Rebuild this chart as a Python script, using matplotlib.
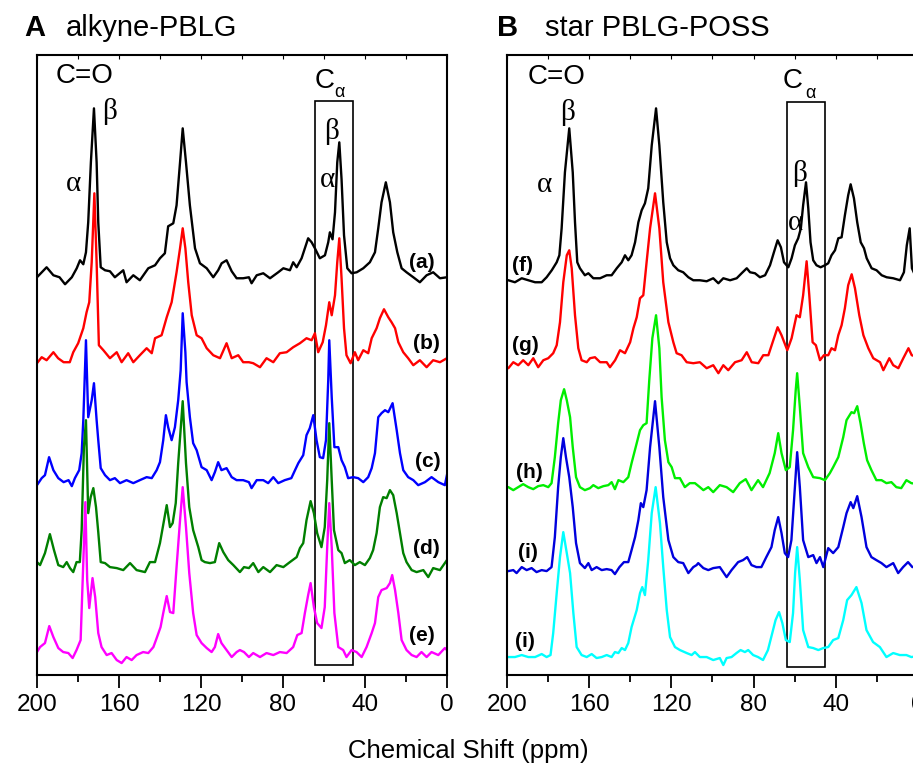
import numpy as np
import matplotlib.pyplot as plt
from matplotlib.patches import Rectangle

plt.rcParams['font.family'] = ['Liberation Sans', 'DejaVu Sans']

# (ppm, intensity above the trace's own baseline)
trace_a = [(200, 0), (195.3, 10), (192, 2), (189, 0), (186.3, -7), (183, 0), (180.6, 9), (179, 17), (177.4, 13),
           (176.1, 25), (175, 55), (173.7, 115), (172.2, 169), (170.9, 115), (170.1, 55), (168.9, 10), (166.8, 7),
           (164.4, 6), (162, 0), (157.9, 7), (156.3, -5), (153, 2), (149.8, -3), (145.7, 9), (142.4, 12), (140, 19),
           (137.6, 24), (136, 51), (133.5, 54), (131.9, 72), (130.2, 115), (128.9, 149), (127.3, 115), (125.4, 72),
           (122.9, 29), (120.5, 14), (117.2, 9), (114, 0), (111.6, 7), (109.9, 14), (107.5, 17), (105, 6),
           (102.6, -1), (99.4, -1), (96.6, 0), (95.3, -6), (92.8, 2), (89.6, 4), (86.3, -1), (82.3, 5), (79.8, 9),
           (76.6, 7), (75, 15), (73.3, 10), (70.9, 19), (69.3, 29), (67.7, 39), (66, 35), (64.4, 29), (62, 19),
           (59.5, 22), (57.9, 35), (57.1, 45), (55.8, 38), (54.6, 65), (53.5, 115), (52.5, 135), (51.4, 98),
           (50.2, 42), (48.6, 9), (46.5, 4), (44, 5), (40.8, 9), (37.6, 15), (35.1, 25), (33.5, 49), (31.9, 75),
           (29.8, 95), (27.8, 75), (26.2, 45), (24.2, 25), (22.1, 9), (19.7, 5), (16.4, 0), (13.2, -5), (9.9, 2),
           (6.7, 5), (3.4, -1), (0, 0)]
trace_b = [(200, -1), (197.7, 5), (195.3, 2), (192, 10), (189.7, 4), (187, 0), (184, 0), (182.3, 10), (179.9, 19),
           (177.4, 34), (175.8, 50), (174.5, 60), (173.3, 100), (172, 169), (170.9, 100), (169.8, 17), (167.6, 12),
           (164.4, 4), (161.1, 10), (158.7, 0), (155.5, 9), (153, 0), (149.8, 7), (146.5, 14), (144, 9), (142.4, 24),
           (139.2, 27), (136.7, 45), (134.3, 60), (131.9, 90), (130.2, 114), (128.9, 134), (127.6, 114), (126.2, 80),
           (124.5, 47), (122.1, 27), (119.7, 24), (117.2, 14), (114, 7), (110.7, 4), (107.5, 19), (105, 4),
           (101.8, 7), (99.4, 0), (96.6, 0), (94.5, -1), (91.2, -5), (88, 4), (84.7, 0), (81.5, 9), (78.2, 10),
           (75, 15), (71.7, 19), (68.5, 24), (66, 22), (64.4, 29), (62.8, 10), (60.6, 20), (59, 37), (57.4, 60),
           (56.2, 47), (54.6, 67), (53.5, 100), (52.5, 124), (51.4, 84), (50.2, 34), (49, 7), (47, -1), (44.9, 10),
           (43.3, 2), (40.8, 12), (38.4, 9), (36.7, 24), (34.3, 34), (32.7, 44), (30.7, 53), (28.6, 45), (27, 40),
           (25.3, 34), (23.7, 20), (21.3, 10), (18.9, 4), (16.4, -3), (13.2, 2), (9.9, -5), (6.7, 2), (3.4, 0),
           (0, 4)]
trace_c = [(200, -3), (197.7, 4), (196.1, 7), (194.1, 25), (192, 12), (189.6, 4), (187, 0), (184.6, 2), (183, -4),
           (181.5, 4), (179.4, 12), (178.2, 29), (177.4, 62), (176.1, 142), (175, 65), (173.3, 82), (172.2, 99),
           (170.9, 62), (170.1, 42), (168.9, 14), (166.8, 7), (164.4, 2), (162, 4), (159.5, -1), (156.3, 2),
           (153, -1), (149.8, 2), (146.5, 5), (144, 4), (141.6, 12), (140, 20), (138.4, 42), (137.1, 67), (136, 55),
           (134.3, 42), (132.7, 55), (131.1, 82), (129.9, 112), (128.9, 169), (127.6, 130), (127, 100), (125.4, 65),
           (123.8, 39), (122.1, 32), (119.7, 15), (117.2, 12), (114.8, 2), (113.2, 10), (111.6, 20), (110, 12),
           (107.5, 14), (105, 5), (102.6, 2), (99.4, 2), (96.6, 0), (95.3, -6), (92.8, 2), (89.6, 2), (87.2, -1),
           (84.7, 5), (82.3, -1), (79.1, 2), (75.9, 4), (74.1, 12), (72.5, 19), (70.1, 27), (68.5, 47), (66.9, 54),
           (65.2, 67), (63.6, 42), (62, 25), (60.4, 24), (59, 42), (57.9, 102), (57.4, 142), (56.2, 85), (54.9, 35),
           (53, 35), (51.4, 22), (49.8, 15), (48.2, 4), (45.7, 5), (43.3, 4), (40.8, 0), (38.4, 5), (36.7, 14),
           (35.1, 29), (33.5, 65), (31.9, 69), (30.2, 72), (28.6, 70), (26.5, 79), (24.5, 52), (22.9, 29),
           (21.3, 12), (18.9, 5), (16.4, 2), (14, -3), (10.7, 0), (7.5, 5), (4.2, 0), (1, -3), (0, 7)]
trace_d = [(200, 5), (198.5, 2), (196.1, 14), (193.7, 33), (191.7, 17), (189.6, 2), (187.2, 0), (185.5, 5),
           (183.9, -1), (182.3, -5), (180.7, 5), (179.1, 5), (178.2, 37), (177.1, 120), (176.1, 147), (175, 54),
           (173.8, 70), (172.5, 79), (171.2, 60), (170.1, 35), (168.9, 5), (166.8, 4), (164.4, 0), (161.1, -1),
           (157.9, -3), (154.6, 4), (151.4, -3), (147.3, -5), (144.9, 5), (142.4, 5), (140, 24), (138, 47),
           (136.7, 62), (135.1, 40), (133.8, 44), (132.3, 64), (131.1, 104), (128.9, 166), (127.3, 104),
           (125.7, 60), (123.8, 37), (121.3, 20), (119.7, 7), (118.1, 5), (115.6, 4), (113.2, 5), (111.1, 24),
           (109.1, 15), (106.7, 7), (104.2, 2), (101, -5), (99, 0), (96.6, -1), (94.5, 4), (92, -5), (89.6, 0),
           (86.3, -5), (83.1, 2), (79.8, 0), (76.6, 5), (73.3, 10), (71.7, 19), (70.1, 24), (68.5, 47), (66.5, 66),
           (64.9, 54), (63.3, 34), (61.2, 20), (59.6, 40), (58.4, 87), (57.4, 144), (56.2, 87), (55.1, 37), (53, 17),
           (51.4, 14), (49.8, 4), (47.4, 7), (44.9, 2), (42.5, 5), (40, 2), (37.6, 9), (36, 17), (34.3, 34),
           (32.7, 60), (31.1, 70), (29.4, 69), (27.8, 77), (26.2, 72), (24.5, 54), (22.9, 34), (21.3, 14),
           (19.7, 5), (17.2, -3), (14.8, -5), (11.5, -3), (9.1, -10), (6.7, -1), (3.4, -3), (0, 7)]
trace_e = [(200, 1), (198.5, 6), (196.1, 10), (194, 27), (192, 16), (189.6, 5), (187.2, 1), (184.7, 0), (182.6, -5),
           (180.7, 3), (178.7, 13), (177.7, 73), (176.4, 151), (175.5, 73), (174.5, 45), (172.9, 75), (171.6, 56),
           (170.1, 20), (168.5, 6), (166, -2), (163.6, 0), (161.1, -7), (158.7, -10), (156.3, -4), (153.8, -7),
           (151.4, -2), (148.2, 1), (145.7, 0), (143.2, 6), (141.6, 15), (139.7, 26), (138.4, 40), (136.7, 57),
           (135.1, 41), (133.5, 40), (131.9, 86), (130.2, 133), (128.9, 166), (127.3, 126), (125.7, 80), (123.8, 40),
           (122.1, 18), (119.7, 10), (117.2, 5), (114.8, 1), (113.2, 6), (111.6, 19), (110, 10), (107.5, 3),
           (105, -4), (102.6, 1), (101, 3), (99, 1), (96.6, -4), (94.5, 0), (91.2, -4), (88, 0), (84.7, -2),
           (81.5, 1), (78.2, 0), (75, 6), (73, 18), (70.9, 20), (69.3, 40), (67.7, 58), (66.5, 70), (64.9, 46),
           (63.3, 30), (61.2, 25), (59.6, 46), (58.4, 106), (57.4, 150), (56.2, 106), (54.9, 40), (53, 6), (50.6, 3),
           (49, -4), (46.5, 3), (44.1, 1), (41.6, -4), (39.2, 6), (36.7, 20), (35.1, 30), (33.5, 56), (31.9, 63),
           (29.4, 65), (27.8, 70), (26.7, 78), (25.3, 63), (23.7, 40), (22.1, 13), (19.7, 3), (17.2, -2), (14.8, -4),
           (12.4, 1), (9.9, -4), (7.5, 1), (4.2, -2), (1, 5), (0, 3)]

trace_f = [(200, 0), (199.2, 0), (196, -2), (192.7, 2), (189.5, 0), (186.2, -2), (183, -2), (180.6, 3), (178.1, 10),
           (175.7, 18), (174.4, 25), (173.3, 52), (171.7, 108), (169.6, 152), (167.9, 108), (166.8, 58), (165.7, 18),
           (164.4, 12), (162, 5), (160.3, 7), (157.9, 2), (154.6, 2), (151.4, 5), (149, 5), (146.5, 12), (144.1, 18),
           (142.5, 25), (140.9, 20), (139.3, 25), (137.6, 38), (136, 58), (134.4, 70), (132.8, 77), (131.2, 92),
           (129.5, 135), (127.4, 172), (125.8, 135), (123.9, 78), (122.2, 38), (120.6, 22), (119, 15), (116.6, 10),
           (114.2, 8), (111.7, 3), (109.3, 0), (106.1, 0), (102.8, -1), (99.6, 2), (97.1, -3), (94.7, 2), (91.4, 0),
           (88.2, 2), (85.8, 7), (83.3, 12), (81.7, 8), (79.3, 7), (76.9, 3), (74.4, 5), (72, 15), (70.1, 28),
           (68.3, 40), (66.7, 33), (65.2, 18), (63.1, 13), (61.5, 22), (59.9, 35), (58.3, 42), (57, 52), (55.9, 75),
           (54.5, 98), (53.4, 72), (52.3, 38), (51, 20), (49.4, 15), (47.4, 13), (45.3, 15), (43.7, 17), (42.1, 25),
           (40.4, 30), (38.8, 42), (37.2, 43), (35.6, 65), (34, 85), (32.8, 96), (31.2, 82), (29.6, 58), (27.9, 38),
           (26.3, 32), (25, 22), (22.6, 12), (20.2, 10), (17.7, 5), (15.3, 3), (12.1, 2), (8.8, 0), (6.9, 8),
           (5.5, 35), (4.1, 52), (3, 12), (1.5, 5), (0, 3)]
trace_g = [(200, -3), (199.2, -3), (196.8, 3), (194.4, 0), (192, 5), (189.5, 0), (187.1, 7), (184.7, -2), (182.2, 5),
           (179.8, 7), (177.4, 12), (175.7, 20), (174.1, 43), (172.5, 83), (170.8, 110), (169.6, 115), (168.4, 97),
           (166.8, 50), (165.2, 17), (163.6, 5), (161.1, 3), (159.5, 7), (157.1, 8), (154.6, 3), (151.4, 3),
           (149.8, -2), (147.3, 5), (144.9, 15), (142.5, 12), (140, 23), (138.4, 37), (136.8, 48), (135.2, 67),
           (133.6, 70), (132, 103), (130.3, 137), (127.9, 172), (125.8, 137), (123.9, 83), (121.4, 43), (119, 23),
           (117.4, 12), (115, 10), (112.5, 3), (109.3, 2), (106.1, 3), (102.8, -3), (99.6, 0), (97.1, -8), (94.7, 0),
           (92.3, -5), (89, 3), (85.8, 5), (83.3, 13), (80.9, 3), (77.7, 2), (75.3, 10), (72.8, 10), (70.4, 25),
           (68.3, 38), (66.4, 30), (63.6, 15), (61.5, 27), (59.1, 50), (57.5, 48), (55.9, 70), (54.2, 104),
           (52.9, 70), (51.3, 23), (49.7, 20), (47.7, 5), (45.8, 10), (43.7, 10), (42.1, 17), (40.4, 15), (38.8, 30),
           (37.2, 40), (35.6, 57), (34, 80), (32.3, 91), (30.7, 77), (28.6, 50), (26.6, 30), (24.2, 17), (21.8, 7),
           (18.5, 3), (16.9, -5), (14, 7), (12.1, 0), (9.6, -3), (7.2, 7), (4.7, 17), (3.1, 10), (0, 8)]
trace_h = [(200, 1), (199.2, 1), (196.8, -2), (194.4, 1), (192, 4), (189.5, 1), (187.1, -1), (184.7, 2), (182.2, 3),
           (179.8, 1), (178.2, 5), (176.6, 31), (175, 65), (173.7, 88), (172.1, 99), (170.8, 88), (169.2, 71),
           (167.9, 41), (166.3, 11), (164.4, 1), (162, -2), (159.5, 0), (157.9, 3), (155.5, 0), (153, 2), (150.6, 3),
           (149, 6), (147.4, -1), (145.7, 8), (143.3, 6), (140.9, 11), (139.3, 25), (136.8, 45), (135.2, 58),
           (133.6, 63), (132, 65), (130.7, 108), (129.2, 150), (127.4, 173), (125.8, 140), (124.7, 91), (123.1, 48),
           (121.4, 26), (119.8, 21), (118.2, 10), (115.8, 10), (113.4, 1), (111, 5), (108.5, 5), (106.1, 1),
           (104.4, -2), (102, 1), (99.6, -4), (96.4, 3), (93.1, 1), (89.9, -4), (86.7, 5), (83.8, 9), (81, -2),
           (77.8, 8), (75.4, 1), (72.2, 15), (69.7, 35), (68, 55), (66.4, 35), (64.3, 18), (62.4, 21), (60.8, 58),
           (59.5, 98), (58.8, 115), (57.5, 81), (55.9, 35), (53.4, 21), (51, 11), (47.7, 10), (45.3, 8), (42.9, 15),
           (41.3, 21), (38.8, 31), (36.4, 51), (34.8, 68), (32.4, 76), (31.1, 75), (29.6, 82), (28, 65), (26.4, 45),
           (24.8, 28), (22.7, 18), (20.3, 8), (17.8, 8), (15.4, 5), (13, 6), (10.6, 1), (8.2, 0), (5.7, 8), (3.3, 5),
           (0, 4)]
trace_i = [(200, -1), (199.2, -1), (196.8, 0), (195.2, -3), (192.7, 3), (190.3, 0), (187.9, 2), (185.5, -2), (183, 0),
           (180.6, -1), (178.2, 3), (176.6, 33), (175, 83), (173.7, 113), (172.5, 132), (171.2, 113), (169.6, 93),
           (167.9, 63), (166.3, 27), (164.4, 7), (162, 2), (160.3, 7), (158.7, 0), (156.3, 3), (153.8, 0), (151.4, 1),
           (149, 0), (147.4, -4), (145.2, 3), (143, 8), (140.9, 8), (139.3, 20), (137.6, 33), (136, 50), (134.8, 67),
           (133.6, 63), (132, 80), (130.3, 123), (127.9, 169), (125.8, 123), (123.9, 73), (121.4, 30), (119, 13),
           (116.6, 8), (114.2, 7), (111.7, -3), (109.3, 3), (107.7, 5), (106.9, 7), (104.4, 2), (102, 0), (99.6, 2),
           (96.4, 3), (93.1, -7), (90.7, 0), (87.5, 8), (85.1, 10), (83.1, 13), (81, 5), (78.6, 3), (76.2, 3),
           (73.8, 13), (71.3, 23), (69.7, 40), (68, 53), (66.4, 37), (64.8, 17), (63.2, 13), (61.6, 30), (59.9, 83),
           (58.8, 118), (57.5, 83), (55.9, 30), (53.4, 13), (51, 15), (49.4, 7), (47.7, 13), (46.1, 3), (43.7, 22),
           (41.3, 17), (38.8, 23), (36.4, 43), (34.8, 57), (32.8, 68), (31.5, 62), (29.6, 74), (27.5, 53),
           (25.1, 23), (22.7, 13), (20.3, 10), (17.8, 7), (15.4, 3), (12.1, 7), (9.7, -3), (7.3, 3), (4.9, 8),
           (2.8, 3), (0, 4)]
trace_j = [(200, 0), (199.2, 0), (196, 0), (192.7, 2), (189.5, 0), (186.2, 0), (183, 3), (180.6, 0), (178.7, 2),
           (177.4, 24), (175.7, 64), (174.1, 100), (172.5, 125), (170.8, 104), (169.2, 84), (167.6, 44), (166, 10),
           (163.6, 2), (161.1, 0), (158.7, 3), (156.3, -1), (153.8, 0), (151.4, 2), (149, 0), (147.4, 5), (145.7, 4),
           (144.1, 9), (142.5, 7), (140.9, 14), (139.3, 30), (136.8, 47), (135.2, 64), (134.1, 70), (132.8, 62),
           (131.2, 97), (129.5, 144), (127.6, 170), (125.5, 134), (123.9, 90), (122.2, 47), (120.6, 20), (118.2, 10),
           (115.8, 7), (112.5, 4), (110.1, 2), (108.5, 5), (106.1, 0), (102.8, 0), (99.6, -3), (96.4, -1),
           (94.7, -8), (93.1, -1), (90.7, 0), (88.3, 4), (86.3, 7), (84.2, 5), (82.6, 7), (80.2, 2), (77.8, 0),
           (75.4, -3), (73, 7), (70.9, 24), (69.3, 37), (67.6, 45), (66, 34), (64.3, 17), (62.4, 15), (60.8, 44),
           (59.8, 84), (58.8, 110), (57.5, 77), (55.9, 27), (53.4, 10), (51, 9), (48.5, 7), (46.1, 9), (43.7, 10),
           (41.3, 17), (38.8, 19), (36.4, 37), (34.5, 57), (32.4, 62), (30, 70), (27.5, 54), (25.1, 27), (21.9, 15),
           (18.6, 10), (15.4, 0), (12.1, 4), (8.9, 2), (5.7, 2), (3.3, 0), (0, 1)]

traces_A = [trace_a, trace_b, trace_c, trace_d, trace_e]
offsets_A = [398, 313, 193, 108, 22]
colors_A = ['black', '#ff0000', '#0000ff', '#007f00', '#ff00ff']
labels_A = ['(a)', '(b)', '(c)', '(d)', '(e)']

traces_B = [trace_f, trace_g, trace_h, trace_i, trace_j]
offsets_B = [395, 310, 187, 105, 18]
colors_B = ['black', '#ff0000', '#00ee00', '#0000dd', '#00ffff']
labels_B = ['(f)', '(g)', '(h)', '(i)', '(i)']

major_ticks = [200, 160, 120, 80, 40, 0]
minor_ticks = [180, 140, 100, 60, 20]

fig = plt.figure(figsize=(9.13, 7.65), dpi=100)
axA = fig.add_axes([0.0405, 0.1176, 0.449, 0.810])
axB = fig.add_axes([0.555, 0.1176, 0.4506, 0.810])


def setup(ax, traces, offsets, colors):
    for tr, off, col in zip(traces, offsets, colors):
        ppm, h = np.array(tr).T
        ax.plot(ppm, h + off, color=col, lw=1.7)
    ax.set_xlim(200, 0)
    ax.set_ylim(0, 620)
    ax.set_yticks([])
    ax.set_xticks(major_ticks)
    ax.set_xticks(minor_ticks, minor=True)
    ax.tick_params(axis='x', which='major', direction='out', length=9, width=1.3, labelsize=17.5, pad=5)
    ax.tick_params(axis='x', which='minor', direction='out', length=5, width=1.3)
    for s in ax.spines.values():
        s.set_linewidth(1.5)
    top = ax.secondary_xaxis('top')
    top.set_xticks(major_ticks + minor_ticks)
    top.set_xticklabels([])
    top.tick_params(direction='in', length=3, width=0.8)
    top.spines['top'].set_visible(False)


setup(axA, traces_A, offsets_A, colors_A)
setup(axB, traces_B, offsets_B, colors_B)

serif = ['Liberation Serif', 'DejaVu Serif']
gk = 21

# panel A annotations
axA.text(176.6, 599, 'C=O', fontsize=20, ha='center', va='center')
axA.text(164.4, 564, 'β', fontsize=gk, family=serif, ha='center', va='center')
axA.text(182.4, 491, 'α', fontsize=gk, family=serif, ha='center', va='center')
axA.text(59.6, 594, 'C', fontsize=20, ha='center', va='center')
axA.text(52.4, 583, 'α', fontsize=13, ha='center', va='center')
axA.text(56.1, 544, 'β', fontsize=gk, family=serif, ha='center', va='center')
axA.text(58.5, 495, 'α', fontsize=gk, family=serif, ha='center', va='center')
axA.add_patch(Rectangle((46, 10), 18.4, 564, fill=False, ec='black', lw=1.2))
for lab, (x, y) in zip(labels_A, [(12.2, 413), (10.2, 332), (9.3, 214), (10.2, 127), (12.2, 40)]):
    axA.text(x, y, lab, fontsize=15, weight='bold', ha='center', va='center')

# panel B annotations
axB.text(175.7, 598, 'C=O', fontsize=20, ha='center', va='center')
axB.text(170.2, 563, 'β', fontsize=gk, family=serif, ha='center', va='center')
axB.text(181.4, 490, 'α', fontsize=gk, family=serif, ha='center', va='center')
axB.text(60.9, 594, 'C', fontsize=20, ha='center', va='center')
axB.text(52.2, 582, 'α', fontsize=13, ha='center', va='center')
axB.text(57.8, 502, 'β', fontsize=gk, family=serif, ha='center', va='center')
axB.text(59.8, 452, 'α', fontsize=gk, family=serif, ha='center', va='center')
axB.add_patch(Rectangle((45.3, 8), 18.4, 565, fill=False, ec='black', lw=1.2))
for lab, (x, y) in zip(labels_B, [(192.1, 410), (191.1, 330), (189.2, 203), (189.6, 123), (191.1, 34)]):
    axB.text(x, y, lab, fontsize=15, weight='bold', ha='center', va='center')

fig.text(0.027, 0.963, 'A', fontsize=21, weight='bold', va='center')
fig.text(0.0723, 0.963, 'alkyne-PBLG', fontsize=21, va='center')
fig.text(0.544, 0.963, 'B', fontsize=21, weight='bold', va='center')
fig.text(0.597, 0.963, 'star PBLG-POSS', fontsize=21, va='center')
fig.text(0.513, 0.018, 'Chemical Shift (ppm)', fontsize=18.5, ha='center', va='center')

fig.savefig('out.png', dpi=100)
